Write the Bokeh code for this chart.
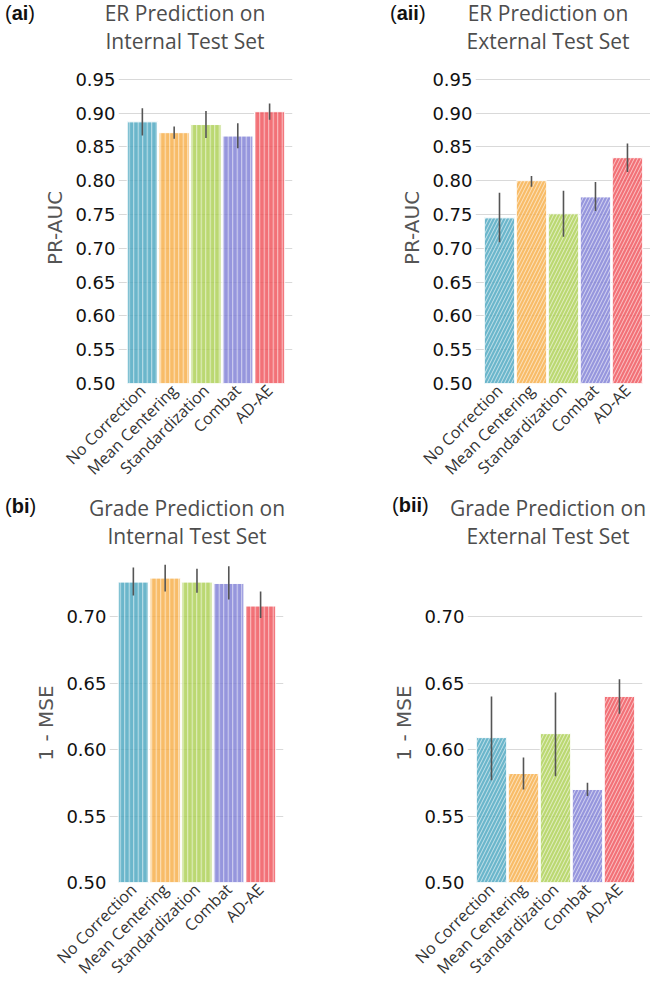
import math
from bokeh.plotting import figure
from bokeh.models import (FixedTicker, NumeralTickFormatter, Range1d, ColumnDataSource, Div)
from bokeh.layouts import row, column
from bokeh.embed import file_html
from bokeh.resources import INLINE

# ---------------- data ----------------
methods = ["No Correction", "Mean Centering", "Standardization", "Combat", "AD-AE"]
colors = ["#4aa6bf", "#f7ad47", "#acd053", "#7f7fd6", "#ef5259"]

er_internal = [0.887, 0.871, 0.883, 0.866, 0.902]
er_internal_lo = [0.867, 0.862, 0.863, 0.848, 0.890]
er_internal_hi = [0.907, 0.880, 0.903, 0.885, 0.914]

er_external = [0.745, 0.800, 0.751, 0.776, 0.834]
er_external_lo = [0.709, 0.791, 0.717, 0.755, 0.813]
er_external_hi = [0.782, 0.807, 0.785, 0.798, 0.855]

grade_internal = [0.726, 0.729, 0.726, 0.725, 0.708]
grade_internal_lo = [0.716, 0.719, 0.718, 0.713, 0.699]
grade_internal_hi = [0.737, 0.739, 0.736, 0.738, 0.719]

grade_external = [0.609, 0.582, 0.612, 0.570, 0.640]
grade_external_lo = [0.577, 0.570, 0.580, 0.565, 0.627]
grade_external_hi = [0.640, 0.594, 0.643, 0.575, 0.653]

er_ticks = [0.50, 0.55, 0.60, 0.65, 0.70, 0.75, 0.80, 0.85, 0.90, 0.95]
grade_ticks = [0.50, 0.55, 0.60, 0.65, 0.70]

TITLE_FONT = "Open Sans"
TICK_FONT = "DejaVu Sans"


def header(tag, line1, line2, width, height, tag_x, tag_cy, title_cx, l1_cy):
    return Div(width=width, height=height, margin=(0, 0, 0, 0),
               styles={"font-size": "0px", "line-height": "0px", "overflow": "visible"},
               text=(
        f'<div style="position:relative;display:block;width:{width}px;height:{height}px;">'
        f'<div style="position:absolute;left:{tag_x}px;top:{tag_cy - 12}px;line-height:24px;'
        f"font-family:'Liberation Sans';font-size:20px;color:#111;white-space:nowrap;\">"
        f'(<b>{tag}</b>)</div>'
        f'<div style="position:absolute;left:{title_cx - 125}px;width:250px;top:{l1_cy - 14}px;'
        f"line-height:28px;text-align:center;font-family:'Open Sans';font-size:21px;"
        f'color:#4d4d4d;white-space:nowrap;">{line1}<br>{line2}</div></div>'))


def panel(vals, lo, hi, ylabel, y_end, ticks, hatch, hatch_scale,
          width, left, right, top, data_px, bottom):
    height = top + data_px + bottom
    p = figure(width=width, height=height, output_backend="svg",
               toolbar_location=None, x_range=Range1d(-0.75, 4.72),
               y_range=Range1d(0.5, y_end),
               min_border_left=left, min_border_right=right,
               min_border_top=top, min_border_bottom=bottom)
    p.outline_line_color = None
    p.background_fill_color = "white"
    p.xgrid.grid_line_color = None
    p.ygrid.grid_line_color = "#d9d9d9"
    p.ygrid.grid_line_width = 1

    yax = p.yaxis[0]
    yax.ticker = FixedTicker(ticks=ticks)
    yax.formatter = NumeralTickFormatter(format="0.00")
    yax.axis_line_color = None
    yax.major_tick_line_color = None
    yax.minor_tick_line_color = None
    yax.major_tick_out = 0
    yax.major_tick_in = 0
    yax.major_label_standoff = 3
    yax.major_label_text_font = TICK_FONT
    yax.major_label_text_font_size = "18px"
    yax.major_label_text_color = "#111111"
    yax.axis_label = ylabel
    yax.axis_label_standoff = 5
    yax.axis_label_text_font = TICK_FONT
    yax.axis_label_text_font_size = "20px"
    yax.axis_label_text_font_style = "normal"
    yax.axis_label_text_color = "#555555"

    xax = p.xaxis[0]
    xax.ticker = FixedTicker(ticks=list(range(len(methods))))
    xax.major_label_overrides = {i: m for i, m in enumerate(methods)}
    xax.major_label_orientation = math.pi / 4
    xax.axis_line_color = None
    xax.major_tick_line_color = None
    xax.minor_tick_line_color = None
    xax.major_tick_out = 0
    xax.major_tick_in = 0
    xax.major_label_standoff = 4
    xax.major_label_text_font = TITLE_FONT
    xax.major_label_text_font_size = "16px"
    xax.major_label_text_color = "#333333"

    src = ColumnDataSource(dict(x=list(range(len(methods))), top=vals, lo=lo, hi=hi,
                                color=colors))
    p.vbar(x="x", top="top", bottom=0.5, width=0.95, source=src,
           fill_color="color", fill_alpha=0.82, line_color="white", line_width=1,
           hatch_pattern=hatch, hatch_color="white", hatch_alpha=0.6,
           hatch_scale=hatch_scale, hatch_weight=1)
    p.segment(x0="x", y0="lo", x1="x", y1="hi", source=src,
              line_color="#555555", line_width=1.6)
    return p


W1, W2 = 325, 325

d_ai = header("ai", "ER Prediction on", "Internal Test Set", W1, 64, 5, 13, 185, 13)
d_aii = header("aii", "ER Prediction on", "External Test Set", W2, 64, 65, 13, 223, 13)
d_bi = header("bi", "Grade Prediction on", "Internal Test Set", W1, 66, 5, 15, 187, 17)
d_bii = header("bii", "Grade Prediction on", "External Test Set", W2, 66, 67, 14, 223, 17)

p_ai = panel(er_internal, er_internal_lo, er_internal_hi, "PR-AUC", 0.96, er_ticks,
             "|", 4.5, W1, 118, 33, 8, 311, 108)
p_aii = panel(er_external, er_external_lo, er_external_hi, "PR-AUC", 0.96, er_ticks,
              "/", 7, W2, 150, 0, 8, 311, 108)
p_bi = panel(grade_internal, grade_internal_lo, grade_internal_hi, "1 - MSE", 0.74,
             grade_ticks, "|", 4.5, W1, 109, 42, 6, 324, 102)
p_bii = panel(grade_external, grade_external_lo, grade_external_hi, "1 - MSE", 0.74,
              grade_ticks, "/", 7, W2, 142, 8, 6, 324, 102)

layout = column(row(d_ai, d_aii), row(p_ai, p_aii), row(d_bi, d_bii), row(p_bi, p_bii))

with open("out.html", "w") as f:
    f.write(file_html(layout, INLINE))
